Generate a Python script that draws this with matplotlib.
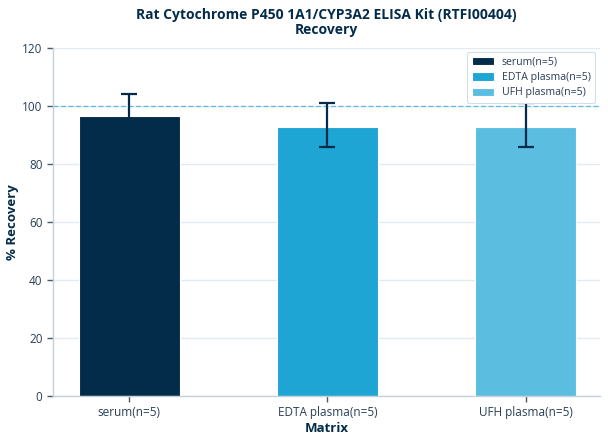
import matplotlib
matplotlib.use("Agg")
import matplotlib.pyplot as plt

plt.rcParams['font.family'] = ['Open Sans', 'Noto Sans', 'DejaVu Sans']

categories = ["serum(n=5)", "EDTA plasma(n=5)", "UFH plasma(n=5)"]
values = [96.7, 92.7, 92.7]
err_lower = [6.0, 6.7, 6.7]
err_upper = [7.4, 8.3, 8.3]
colors = ["#032b4a", "#1fa5d3", "#5bbee0"]
yticks = [0, 20, 40, 60, 80, 100, 120]

fig = plt.figure(figsize=(6.08, 4.44), dpi=100)
ax = fig.add_axes([0.087, 0.1081, 0.900, 0.7838])

x = list(range(len(categories)))
for i in x:
    ax.bar(i, values[i], width=0.51, color=colors[i], edgecolor="#ffffff",
           linewidth=0.8, label=categories[i], zorder=2)
    ax.errorbar(i, values[i], yerr=[[err_lower[i]], [err_upper[i]]], fmt="none",
                ecolor="#032b4a", elinewidth=1.6, capsize=6, capthick=1.6, zorder=3)

ax.axhline(100, color="#5bbee0", linestyle=(0, (4, 2)), linewidth=0.9, zorder=1)

ax.set_xlim(-0.386, 2.376)
ax.set_ylim(0, 120)
ax.set_yticks(yticks)
ax.set_xticks(x)
ax.set_xticklabels(categories)
ax.yaxis.grid(True, color="#e3eaf0", linewidth=1, zorder=0)
ax.set_axisbelow(True)

for s in ["top", "right"]:
    ax.spines[s].set_visible(False)
for s in ["left", "bottom"]:
    ax.spines[s].set_color("#c5d0da")
    ax.spines[s].set_linewidth(1)

ax.tick_params(axis="both", colors="#4a5a6a", labelsize=8.5, labelcolor="#2a3f55",
               length=4, width=1)

ax.set_xlabel("Matrix", fontsize=9.5, fontweight="bold", color="#032b4a", labelpad=2)
ax.set_ylabel("% Recovery", fontsize=9.5, fontweight="bold", color="#032b4a", labelpad=2)
ax.set_title("Rat Cytochrome P450 1A1/CYP3A2 ELISA Kit (RTFI00404)\nRecovery",
             fontsize=10, fontweight="bold", color="#032b4a", pad=10, linespacing=1.1)

leg = ax.legend(loc="upper right", fontsize=7.6, frameon=True, handlelength=2.1,
                handleheight=0.8, borderpad=0.45, labelspacing=0.4, handletextpad=0.7,
                borderaxespad=0, framealpha=1, fancybox=True,
                bbox_to_anchor=(0.991, 0.988))
leg.get_frame().set_edgecolor("#d5dde5")
leg.get_frame().set_linewidth(0.8)
for t in leg.get_texts():
    t.set_color("#2a3f55")
leg.set_zorder(5)

fig.savefig("out.png", dpi=100)
